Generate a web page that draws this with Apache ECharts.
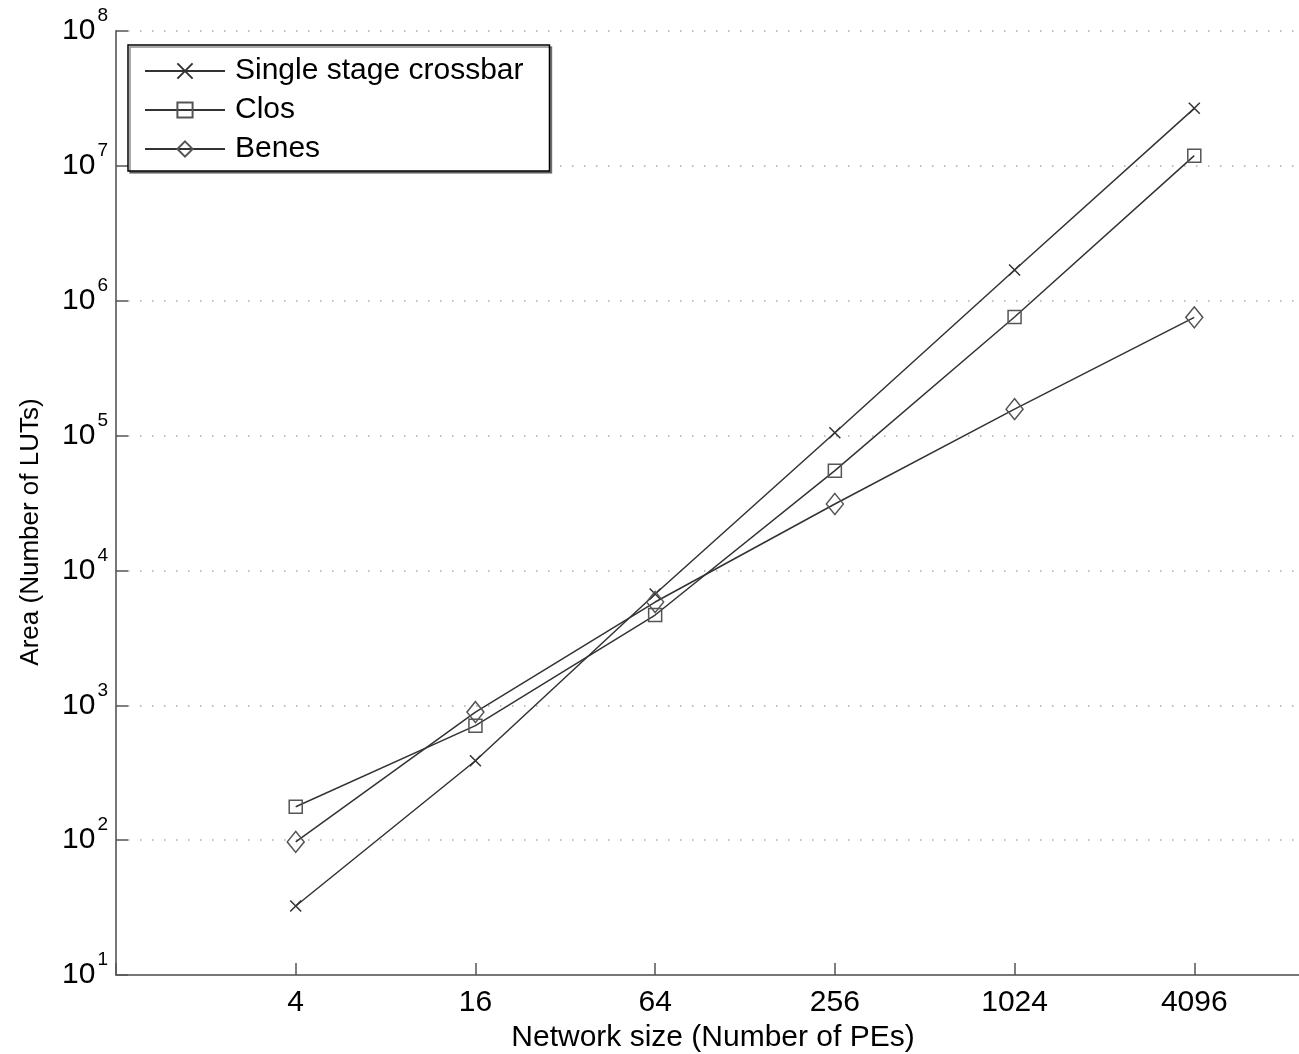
<!DOCTYPE html>
<html>
<head>
<meta charset="utf-8">
<script src="https://cdn.jsdelivr.net/npm/echarts@6/dist/echarts.min.js"></script>
<style>
    html, body { margin: 0; padding: 0; background: #fff; }
    #main { width: 1299px; height: 1054px; }
</style>
</head>
<body>
<div id="main"></div>
<script>
// network sizes (number of PEs) and area in LUTs
var sizes = [4, 16, 64, 256, 1024, 4096]
var crossbar = [32.5, 388, 6680, 105000, 1690000, 26700000]
var clos = [177, 706, 4670, 54900, 757000, 11900000]
var benes = [97, 891, 5830, 31100, 157000, 753000]
var xTickLabels = ['4', '16', '64', '256', '1024', '4096']

var font = 'Liberation Sans, Arial, Helvetica, sans-serif'
var lineColor = '#333'

function pairs(vals) {
    return sizes.map(function(s, i) {
        return [s, vals[i]]
    })
}

var chart = echarts.init(document.getElementById('main'))
var option = {
    animation: false,
    backgroundColor: '#fff',
    grid: {
        left: 116,
        right: -11,
        top: 31,
        bottom: 79,
        outerBoundsMode: 'none',
    },
    legend: {
        orient: 'vertical',
        left: 128,
        top: 45,
        padding: [11, 26, 7, 16],
        itemGap: 9,
        itemWidth: 80,
        itemHeight: 19,
        backgroundColor: '#fff',
        borderColor: '#000',
        borderWidth: 1.5,
        shadowColor: 'rgba(0,0,0,0.45)',
        shadowOffsetX: 2,
        shadowOffsetY: 2,
        shadowBlur: 0,
        textStyle: { fontSize: 30, fontFamily: font, color: '#000', padding: [0, 0, 0, 5] },
        data: ['Single stage crossbar', 'Clos', 'Benes'],
    },
    xAxis: {
        type: 'log',
        logBase: 4,
        min: 1,
        max: 10000,
        name: 'Network size (Number of PEs)',
        nameLocation: 'middle',
        nameGap: 44,
        nameTextStyle: { fontSize: 30, fontFamily: font, color: '#000' },
        axisLine: { show: true, lineStyle: { color: '#777', width: 2 } },
        axisTick: { show: true, inside: true, length: 12, lineStyle: { color: '#555', width: 1.5 } },
        axisLabel: {
            margin: 13,
            fontSize: 30,
            fontFamily: font,
            color: '#000',
            formatter: function(v) {
                var s = String(Math.round(v))
                return xTickLabels.indexOf(s) > -1 ? s : ''
            },
        },
        splitLine: { show: false },
    },
    yAxis: {
        type: 'log',
        logBase: 10,
        min: 10,
        max: 100000000,
        name: 'Area (Number of LUTs)',
        nameLocation: 'middle',
        nameGap: 72,
        nameTextStyle: { fontSize: 26, fontFamily: font, color: '#000', padding: [0, 58, 0, 0] },
        axisLine: { show: true, lineStyle: { color: '#777', width: 2 } },
        axisTick: { show: true, inside: true, length: 12, lineStyle: { color: '#555', width: 1.5 } },
        axisLabel: {
            margin: 8,
            formatter: function(v) {
                var e = Math.round(Math.log10(v))
                return '{b|10}{s|' + e + '}'
            },
            rich: {
                b: { fontSize: 30, fontFamily: font, color: '#000' },
                s: { fontSize: 19, fontFamily: font, color: '#000', padding: [0, 0, 30, 2] },
            },
        },
        splitLine: {
            show: true,
            lineStyle: { color: '#aaa', width: 1.5, type: [1.5, 10.5] },
        },
    },
    series: [
        {
            name: 'Single stage crossbar',
            type: 'line',
            symbol: 'path://M0,0L10,10M10,0L0,10',
            symbolSize: 11,
            lineStyle: { color: lineColor, width: 1.5 },
            itemStyle: { color: 'rgba(0,0,0,0)', borderColor: lineColor, borderWidth: 1.5 },
            data: pairs(crossbar),
        },
        {
            name: 'Clos',
            type: 'line',
            symbol: 'rect',
            symbolSize: 13,
            lineStyle: { color: lineColor, width: 1.5 },
            itemStyle: { color: 'rgba(0,0,0,0)', borderColor: '#555', borderWidth: 1.5 },
            data: pairs(clos),
        },
        {
            name: 'Benes',
            type: 'line',
            symbol: 'diamond',
            symbolSize: [17, 21],
            lineStyle: { color: lineColor, width: 1.5 },
            itemStyle: { color: 'rgba(0,0,0,0)', borderColor: '#555', borderWidth: 1.5 },
            data: pairs(benes),
        },
    ],
}
option && chart.setOption(option)
</script>
</body>
</html>
